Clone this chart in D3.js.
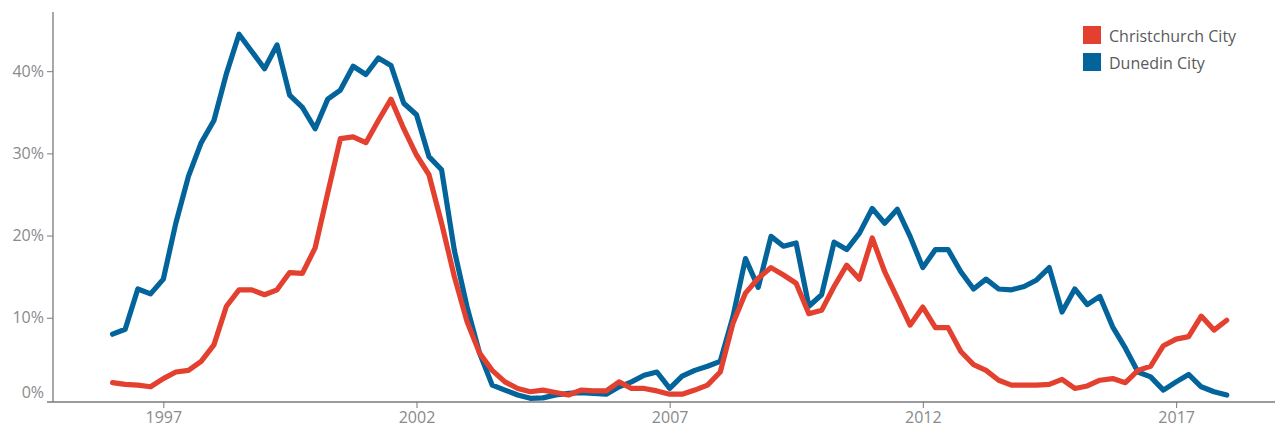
<!DOCTYPE html>
<html>
<head>
<meta charset="utf-8">
<script src="https://cdn.jsdelivr.net/npm/d3@7/dist/d3.min.js"></script>
<style>
  html, body { margin: 0; padding: 0; background: #fff; }
  svg { display: block; font-family: "Open Sans", "Noto Sans", sans-serif; }
</style>
</head>
<body>
<svg id="chart" width="1275" height="428"></svg>
<script>
// Quarterly series, 1996 Q1 to 2018 Q1 (percent)
const firstQuarter = { year: 1996, quarter: 1 };
const christchurch = [2.1,1.9,1.8,1.6,2.6,3.4,3.6,4.7,6.7,11.4,13.4,13.4,12.8,13.4,15.5,15.4,18.5,25.2,31.8,32.0,31.3,34.0,36.6,33.0,29.8,27.4,21.5,15.0,9.5,5.7,3.6,2.2,1.4,1.0,1.2,0.9,0.6,1.2,1.1,1.1,2.2,1.4,1.4,1.1,0.7,0.7,1.2,1.8,3.4,9.3,13.0,14.8,16.1,15.2,14.2,10.5,10.9,13.8,16.4,14.7,19.7,15.6,12.4,9.1,11.3,8.8,8.8,5.9,4.3,3.6,2.4,1.8,1.8,1.8,1.9,2.5,1.4,1.7,2.4,2.6,2.1,3.6,4.1,6.6,7.4,7.7,10.2,8.5,9.7];
const dunedin = [8.0,8.6,13.5,12.9,14.7,21.5,27.2,31.3,34.0,39.7,44.5,42.4,40.3,43.2,37.1,35.6,33.0,36.6,37.7,40.6,39.6,41.6,40.7,36.1,34.7,29.6,28.0,18.2,11.3,5.7,1.8,1.2,0.6,0.2,0.25,0.6,0.8,0.9,0.8,0.7,1.6,2.2,3.0,3.4,1.4,2.9,3.6,4.1,4.7,10.1,17.2,13.7,19.9,18.7,19.1,11.4,12.8,19.2,18.3,20.3,23.3,21.5,23.2,19.9,16.1,18.3,18.3,15.6,13.5,14.7,13.5,13.4,13.8,14.6,16.1,10.7,13.5,11.6,12.6,8.9,6.3,3.4,2.8,1.2,2.2,3.1,1.6,1.0,0.6];
const seriesNames = ["Christchurch City", "Dunedin City"];
const seriesColors = ["#E3402F", "#02649A"];
const yTicks = [0, 10, 20, 30, 40];
const xTickYears = [1997, 2002, 2007, 2012, 2017];

// Quarter start dates for each observation
const quarters = christchurch.map((_, i) =>
  new Date(Date.UTC(firstQuarter.year, (firstQuarter.quarter - 1) * 3 + i * 3, 1)));

const decYear = y => new Date(Date.UTC(Math.floor(y), 0, 1) + (y - Math.floor(y)) * 365.25 * 864e5);

const svg = d3.select("#chart");
const plot = { left: 53, right: 1275, top: 12, bottom: 402 };

const x = d3.scaleUtc()
  .domain([decYear(1994.822), decYear(2018.953)])
  .range([plot.left, plot.right]);
const y = d3.scaleLinear()
  .domain([-0.25, 47.2])
  .range([plot.bottom, plot.top]);

const axisColor = "#7a7a7a";
const tickText = "#8a8a8a";
const fontFamily = "'Open Sans', sans-serif";

// Y axis
const yAxis = svg.append("g")
  .attr("transform", `translate(${plot.left},0)`)
  .call(d3.axisLeft(y).tickValues(yTicks).tickSize(6).tickPadding(3).tickFormat(d => d + "%"));
yAxis.select(".domain").attr("d", `M0,${plot.top}V${plot.bottom}`).attr("stroke", axisColor).attr("stroke-width", 1.3);
yAxis.selectAll(".tick line").attr("stroke", axisColor);
yAxis.selectAll(".tick text").attr("fill", tickText).attr("font-size", 16)
  .attr("font-family", fontFamily);
// the 0% label sits just above the baseline, its tick merges with the x axis
const zeroTick = yAxis.selectAll(".tick").filter(d => d === 0);
zeroTick.select("line").remove();
zeroTick.select("text").attr("transform", "translate(0,-8)");

// X axis
const xAxis = svg.append("g")
  .attr("transform", `translate(0,${plot.bottom})`)
  .call(d3.axisBottom(x).tickValues(xTickYears.map(yr => new Date(Date.UTC(yr, 0, 1))))
    .tickSize(6).tickPadding(4).tickFormat(d3.utcFormat("%Y")));
xAxis.select(".domain").attr("d", `M${plot.left - 6},0H${plot.right}`).attr("stroke", axisColor).attr("stroke-width", 1.3);
xAxis.selectAll(".tick line").attr("stroke", axisColor);
xAxis.selectAll(".tick text").attr("fill", tickText).attr("font-size", 16)
  .attr("font-family", fontFamily);

// Lines
const line = d3.line()
  .x((d, i) => x(quarters[i]))
  .y(d => y(d));

const drawOrder = [1, 0];
const seriesData = [christchurch, dunedin];
drawOrder.forEach(k => {
  svg.append("path")
    .datum(seriesData[k])
    .attr("fill", "none")
    .attr("stroke", seriesColors[k])
    .attr("stroke-width", 5.2)
    .attr("stroke-linejoin", "round")
    .attr("stroke-linecap", "round")
    .attr("d", line);
});

// Legend
const legend = svg.append("g").attr("transform", "translate(1083,26)");
seriesNames.forEach((name, k) => {
  const g = legend.append("g").attr("transform", `translate(0,${k * 27})`);
  g.append("rect").attr("width", 18).attr("height", 18).attr("fill", seriesColors[k]);
  g.append("text").attr("x", 26).attr("y", 15.5)
    .attr("font-size", 16).attr("fill", "#5a5a5a")
    .attr("font-family", fontFamily)
    .text(name);
});
</script>
</body>
</html>
